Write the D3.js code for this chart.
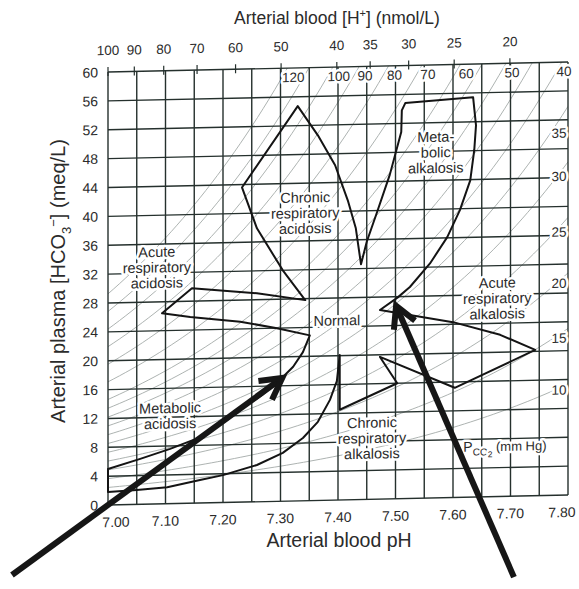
<!DOCTYPE html>
<html>
<head>
<meta charset="utf-8">
<script src="https://cdn.jsdelivr.net/npm/d3@7"></script>
<style>
  body { margin: 0; background: #fff; }
  text { font-family: "Liberation Sans", Arial, sans-serif; fill: #2b2b2b; }
</style>
</head>
<body>
<div id="chart"></div>
<script>
// ---- data ----
const phTicks = [7.00, 7.10, 7.20, 7.30, 7.40, 7.50, 7.60, 7.70, 7.80];
const phGrid = [7.00, 7.05, 7.10, 7.15, 7.20, 7.25, 7.30, 7.35, 7.40, 7.45, 7.50, 7.55, 7.60, 7.65, 7.70, 7.75, 7.80];
const hco3Ticks = [0, 4, 8, 12, 16, 20, 24, 28, 32, 36, 40, 44, 48, 52, 56, 60];
const hTicks = [100, 90, 80, 70, 60, 50, 40, 35, 30, 25, 20];           // nmol/L
const pco2Lines = [10, 15, 20, 25, 30, 35, 40, 45, 50, 55, 60, 70, 80, 90, 100, 110, 120];
const pco2TopLabels = [120, 100, 90, 80, 70, 60, 50, 40];
const pco2RightLabels = [35, 30, 25, 20, 15, 10];
const pco2RightLabelAt = [50.2, 44.2, 36.5, 29.4, 21.8, 14.6];         // HCO3 where the label sits

// one closed outline round all the bands: [pH, HCO3]
const outline = [
  [7.094, 26.4], [7.143, 25.8], [7.230, 25.0], [7.294, 24.0], [7.351, 22.9],
  [7.339, 20.6], [7.322, 18.6], [7.299, 16.8], [7.268, 14.8], [7.238, 13.2],
  [7.203, 11.2], [7.160, 9.1], [7.108, 7.6], [7.056, 6.3], [7.000, 5.0],
  [7.000, 1.8], [7.050, 2.0], [7.103, 2.3], [7.160, 3.2], [7.200, 3.8],
  [7.259, 5.1], [7.304, 6.7], [7.339, 8.7], [7.365, 10.9], [7.386, 13.9],
  [7.398, 16.5], [7.403, 20.1], [7.403, 12.5],
  [7.503, 16.0], [7.473, 19.7], [7.603, 15.2], [7.743, 20.2],
  [7.682, 22.4], [7.600, 24.3], [7.473, 26.2], [7.504, 27.9],
  [7.525, 29.3], [7.560, 32.5], [7.590, 36.1], [7.612, 39.8], [7.630, 43.9],
  [7.637, 48.1], [7.640, 51.5], [7.635, 55.4], [7.517, 54.8], [7.511, 53.8],
  [7.510, 50.8], [7.490, 44.9], [7.468, 39.8], [7.450, 35.7], [7.440, 32.6],
  [7.431, 37.6], [7.417, 41.5], [7.395, 46.4], [7.365, 50.6], [7.330, 54.7],
  [7.233, 43.6], [7.259, 37.9], [7.304, 32.0], [7.343, 27.8],
  [7.259, 28.9], [7.146, 29.8]
];

const regionLabels = [
  {lines: ["Chronic", "respiratory", "acidosis"], ph: 7.343, hco3: 39.9},
  {lines: ["Meta-", "bolic", "alkalosis"], ph: 7.570, hco3: 47.9},
  {lines: ["Acute", "respiratory", "acidosis"], ph: 7.085, hco3: 32.8},
  {lines: ["Normal"], ph: 7.398, hco3: 24.9},
  {lines: ["Acute", "respiratory", "alkalosis"], ph: 7.677, hco3: 27.5},
  {lines: ["Metabolic", "acidosis"], ph: 7.108, hco3: 12.2},
  {lines: ["Chronic", "respiratory", "alkalosis"], ph: 7.459, hco3: 8.5}
];

// pointer arrows drawn over the page: [pH, HCO3] tail -> head
const arrows = [
  {from: [6.833, -9.7], to: [7.303, 17.6]},
  {from: [7.706, -10.0], to: [7.501, 27.6]}
];

// ---- drawing ----
const W = 579, H = 589;
const svg = d3.select("#chart").append("svg").attr("width", W).attr("height", H);

const x = d3.scaleLinear().domain([7.0, 7.8]).range([108, 568]);
const y = d3.scaleLinear().domain([0, 60]).range([505, 72]);

// the scanned page is slightly tilted
const page = svg.append("g").attr("transform", "translate(110,0) skewY(-1.25) translate(-110,0)");

page.append("defs").append("clipPath").attr("id", "plotClip")
  .append("rect")
  .attr("x", x(7.0)).attr("y", y(60))
  .attr("width", x(7.8) - x(7.0)).attr("height", y(0) - y(60));

const halo = sel => sel.attr("stroke", "#fff").attr("stroke-width", 5)
  .attr("stroke-linejoin", "round").attr("paint-order", "stroke");

// PCO2 isobars (Henderson-Hasselbalch)
const phSamples = d3.range(7.0, 7.8001, 0.01);
const isoLine = d3.line().x(d => x(d[0])).y(d => y(d[1]));
page.append("g").attr("clip-path", "url(#plotClip)")
  .selectAll("path").data(pco2Lines).join("path")
  .attr("d", p => isoLine(phSamples.map(ph => [ph, 0.0307 * p * Math.pow(10, ph - 6.1)])))
  .attr("fill", "none").attr("stroke", "#a4aba8").attr("stroke-width", 0.9);

// grid
const grid = page.append("g").attr("stroke", "#25302d").attr("stroke-width", 1.4);
grid.selectAll("line.v").data(phGrid).join("line").attr("class", "v")
  .attr("x1", d => x(d)).attr("x2", d => x(d))
  .attr("y1", y(0)).attr("y2", y(60));
grid.selectAll("line.h").data(hco3Ticks).join("line").attr("class", "h")
  .attr("x1", x(7.0)).attr("x2", x(7.8))
  .attr("y1", d => y(d)).attr("y2", d => y(d));

// top H+ axis ticks
const hToPh = h => 9 - Math.log10(h);
page.append("g").selectAll("line").data(hTicks).join("line")
  .attr("x1", d => x(hToPh(d))).attr("x2", d => x(hToPh(d)))
  .attr("y1", y(60) - 5).attr("y2", y(60) + 4)
  .attr("stroke", "#25302d").attr("stroke-width", 1.2);
page.append("g").selectAll("text").data(hTicks).join("text")
  .attr("x", d => x(hToPh(d))).attr("y", y(60) - 17)
  .attr("text-anchor", "middle").attr("font-size", 13.5)
  .text(d => d);

// region outline
page.append("path").datum(outline)
  .attr("d", d3.line().x(d => x(d[0])).y(d => y(d[1])).curve(d3.curveLinearClosed))
  .attr("fill", "none").attr("stroke", "#141414").attr("stroke-width", 2)
  .attr("stroke-linejoin", "round");

// left HCO3 tick labels
page.append("g").selectAll("text").data(hco3Ticks).join("text")
  .attr("x", x(7.0) - 10).attr("y", d => y(d)).attr("dy", "0.36em")
  .attr("text-anchor", "end").attr("font-size", 14)
  .text(d => d);

// bottom pH tick labels
const lastPh = phTicks.length - 1;
page.append("g").selectAll("text").data(phTicks).join("text")
  .attr("x", (d, i) => x(d) + (i === 0 ? 8 : i === lastPh ? -6 : 0)).attr("y", y(0) + 22)
  .attr("text-anchor", "middle").attr("font-size", 14)
  .text(d => d.toFixed(2));

// PCO2 labels along the top and right edges
const phAtTop = p => 6.1 + Math.log10(60 / (0.0307 * p));
page.append("g").selectAll("text").data(pco2TopLabels).join("text")
  .attr("x", p => Math.min(x(phAtTop(p)) + 6, x(7.8) - 4)).attr("y", y(60) + 14)
  .attr("text-anchor", "middle").attr("font-size", 13.5)
  .call(halo)
  .text(d => d);
page.append("g").selectAll("text").data(pco2RightLabels).join("text")
  .attr("x", x(7.8) - 9).attr("y", (d, i) => y(pco2RightLabelAt[i])).attr("dy", "0.36em")
  .attr("text-anchor", "middle").attr("font-size", 13.5)
  .call(halo)
  .text(d => d);

// region names
regionLabels.forEach(r => {
  const n = r.lines.length;
  const t = page.append("text")
    .attr("text-anchor", "middle").attr("font-size", 14.5)
    .call(halo);
  r.lines.forEach((s, i) => {
    t.append("tspan").attr("x", x(r.ph))
      .attr("y", y(r.hco3) + (i - (n - 1) / 2) * 15.5).attr("dy", "0.36em")
      .text(s);
  });
});

// PCO2 (mm Hg) note
const pn = page.append("text").attr("x", x(7.618)).attr("y", y(7.0)).attr("dy", "0.36em")
  .attr("font-size", 14).call(halo);
pn.append("tspan").text("P");
pn.append("tspan").attr("dy", 4).attr("font-size", 10).text("CO");
pn.append("tspan").attr("dy", 2).attr("font-size", 8.5).text("2");
pn.append("tspan").attr("dy", -6).attr("font-size", 13).text(" (mm Hg)");

// axis titles
const topTitle = svg.append("text").attr("x", 337).attr("y", 24)
  .attr("text-anchor", "middle").attr("font-size", 17.5);
topTitle.append("tspan").text("Arterial blood [H");
topTitle.append("tspan").attr("dy", -7).attr("font-size", 11).text("+");
topTitle.append("tspan").attr("dy", 7).text("] (nmol/L)");

svg.append("text").attr("x", 339).attr("y", 547)
  .attr("text-anchor", "middle").attr("font-size", 19.5)
  .text("Arterial blood pH");

const leftTitle = svg.append("text").attr("transform", "translate(65,281) rotate(-90)")
  .attr("text-anchor", "middle").attr("font-size", 20);
leftTitle.append("tspan").text("Arterial plasma [HCO");
leftTitle.append("tspan").attr("dy", 6).attr("font-size", 13).text("3");
leftTitle.append("tspan").attr("dy", -13).attr("font-size", 13).text("\u2212");
leftTitle.append("tspan").attr("dy", 7).text("] (meq/L)");

// pointer arrows
const arrowG = svg.append("g").attr("stroke", "#161616").attr("stroke-width", 6)
  .attr("fill", "none").attr("stroke-linecap", "butt").attr("stroke-linejoin", "miter");
arrows.forEach(a => {
  const x0 = x(a.from[0]), y0 = y(a.from[1]);
  const x1 = x(a.to[0]), y1 = y(a.to[1]);
  const ang = Math.atan2(y0 - y1, x0 - x1);
  const len = 24, spread = 0.5;
  arrowG.append("line").attr("x1", x0).attr("y1", y0).attr("x2", x1).attr("y2", y1);
  arrowG.append("path").attr("d",
    "M" + (x1 + len * Math.cos(ang + spread)) + "," + (y1 + len * Math.sin(ang + spread)) +
    "L" + x1 + "," + y1 +
    "L" + (x1 + len * Math.cos(ang - spread)) + "," + (y1 + len * Math.sin(ang - spread)));
});
</script>
</body>
</html>
